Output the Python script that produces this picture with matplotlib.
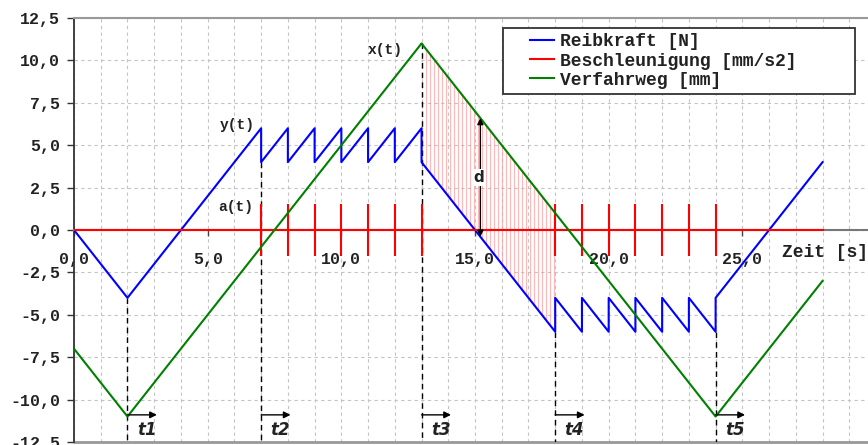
import numpy as np
import matplotlib
matplotlib.use("Agg")
import matplotlib.pyplot as plt
from matplotlib.lines import Line2D
from matplotlib.legend_handler import HandlerLine2D
from matplotlib.ticker import FuncFormatter

# Reibkraft [N]: Eckpunkte des Sägezahnverlaufs
reib_t = [0, 2, 7, 7, 8, 8, 9, 9, 10, 10, 11, 11, 12, 12, 13, 13,
          18, 18, 19, 19, 20, 20, 21, 21, 22, 22, 23, 23, 24, 24, 28]
reib_v = [0, -4, 6, 4, 6, 4, 6, 4, 6, 4, 6, 4, 6, 4, 6, 4,
          -6, -4, -6, -4, -6, -4, -6, -4, -6, -4, -6, -4, -6, -4, 4]

# Verfahrweg [mm]
weg_t = [0, 2, 13, 24, 28]
weg_v = [-7, -11, 11, -11, -3]

# Beschleunigung [mm/s2]: Grundlinie und Impulse
acc_t = [0, 28]
acc_v = [0, 0]
puls_t = [7, 8, 9, 10, 11, 12, 13, 18, 19, 20, 21, 22, 23, 24]
puls_amp = 1.55

# Zeitmarken t1..t5 und Oberkante der Hilfslinien
marken_t = [2, 7, 13, 18, 24]
marken_oben = [-4, 4, 11, -6, -6]
marken_namen = ["t1", "t2", "t3", "t4", "t5"]

mono = "Liberation Mono"
plt.rcParams["font.family"] = mono
plt.rcParams["font.weight"] = "bold"
plt.rcParams["font.size"] = 12
plt.rcParams["text.color"] = "#222"
plt.rcParams["xtick.color"] = "#444"
plt.rcParams["ytick.color"] = "#333"
plt.rcParams["xtick.labelcolor"] = "#222"
plt.rcParams["ytick.labelcolor"] = "#222"

fig = plt.figure(figsize=(8.68, 4.45), dpi=100)
ax = fig.add_axes([74 / 868, 3 / 445, 1 - 74 / 868, 424 / 445])
ax.set_xlim(0, 29.7)
ax.set_ylim(-12.5, 12.5)

# Gitter: 1 s in x, 2,5 in y
ax.set_xticks(np.arange(0, 26, 5))
ax.set_xticks(np.arange(0, 30, 1), minor=True)
ax.set_yticks(np.arange(-12.5, 12.6, 2.5))
ax.grid(True, which="both", color="#c4c4c4", linestyle=(0, (3, 3)), linewidth=0.8)
ax.set_axisbelow(True)

fmt = FuncFormatter(lambda v, p: f"{v:.1f}".replace(".", ","))
ax.xaxis.set_major_formatter(fmt)
ax.yaxis.set_major_formatter(fmt)
ax.tick_params(axis="x", which="major", direction="out", length=4, width=1,
               pad=12, labelsize=12)
ax.tick_params(axis="x", which="minor", length=0)
ax.tick_params(axis="y", direction="out", length=5, width=1, pad=5, labelsize=12)

ax.spines["right"].set_visible(False)
ax.spines["top"].set_color("#999")
ax.spines["top"].set_linewidth(1.5)
ax.spines["left"].set_color("#333")
ax.spines["left"].set_linewidth(1.3)
ax.spines["bottom"].set_position(("data", 0))
ax.spines["bottom"].set_color("#777")
ax.spines["bottom"].set_linewidth(1.5)
ax.axhline(-12.5, color="#999", linewidth=2, clip_on=False, zorder=1)

# Kurven
l_reib, = ax.plot(reib_t, reib_v, color="#0000ff", lw=1.5, label="Reibkraft [N]", zorder=4)
l_acc, = ax.plot(acc_t, acc_v, color="#ff0000", lw=1.5, label="Beschleunigung [mm/s2]", zorder=4)
ax.vlines(puls_t, -puls_amp, puls_amp, color="#ff0000", lw=1.5, zorder=4)
l_weg, = ax.plot(weg_t, weg_v, color="#008000", lw=1.5, label="Verfahrweg [mm]", zorder=4)

# Schraffur zwischen Weg und Reibkraft nach t3
xs = np.arange(13.15, 18.0, 0.15)
ax.vlines(xs, np.interp(xs, reib_t[15:], reib_v[15:]), np.interp(xs, weg_t, weg_v),
          color="#ff9999", lw=0.8, alpha=0.7, zorder=2)

# Hilfslinien und Pfeile der Zeitmarken
for t, oben, name in zip(marken_t, marken_oben, marken_namen):
    ax.plot([t, t], [oben, -12.5], color="black", lw=1, linestyle=(0, (4, 3)), zorder=3)
    ax.annotate("", xy=(t + 1.1, -10.9), xytext=(t, -10.9),
                arrowprops=dict(arrowstyle="-|>", color="black", lw=1,
                                mutation_scale=10, shrinkA=0, shrinkB=0), zorder=5)
    ax.text(t + 0.35, -11.8, name, fontsize=12, fontstyle="italic", fontweight="bold",
            family="DejaVu Sans", ha="left", va="center")

# Abstand d
d_x = 15.2
ax.annotate("", xy=(d_x, np.interp(d_x, weg_t, weg_v)),
            xytext=(d_x, np.interp(d_x, reib_t[15:], reib_v[15:])),
            arrowprops=dict(arrowstyle="<|-|>", color="black", lw=1,
                            mutation_scale=9, shrinkA=0, shrinkB=0), zorder=5)
ax.text(d_x - 0.05, 3.1, "d", fontsize=11, fontweight="bold", family="DejaVu Sans",
        ha="center", va="center", zorder=6,
        bbox=dict(facecolor="white", edgecolor="none", pad=0.5))

# Kurvenbeschriftungen
for s, x, y in [("y(t)", 6.75, 6.2), ("a(t)", 6.7, 1.35), ("x(t)", 12.3, 10.6)]:
    ax.text(x, y, s, fontsize=10.5, ha="right", va="center")

ax.text(26.5, -1.3, "Zeit [s]", fontsize=13, ha="left", va="center", clip_on=False)

leg = ax.legend(handles=[l_reib, l_acc, l_weg], loc="upper left",
                bbox_to_anchor=(503 / 868, 1 - 28 / 445, (855 - 503) / 868, 0),
                bbox_transform=fig.transFigure, mode="expand", borderaxespad=0,
                prop=dict(family=mono, weight="bold", size=13),
                handlelength=2.55, handletextpad=0.3, labelspacing=0.12,
                borderpad=0.3, fancybox=False, framealpha=1,
                handler_map={Line2D: HandlerLine2D(xpad=1.2)})
leg.get_frame().set_edgecolor("#333")
leg.get_frame().set_linewidth(1.3)
leg.set_zorder(10)

fig.savefig("out.png", dpi=100)
